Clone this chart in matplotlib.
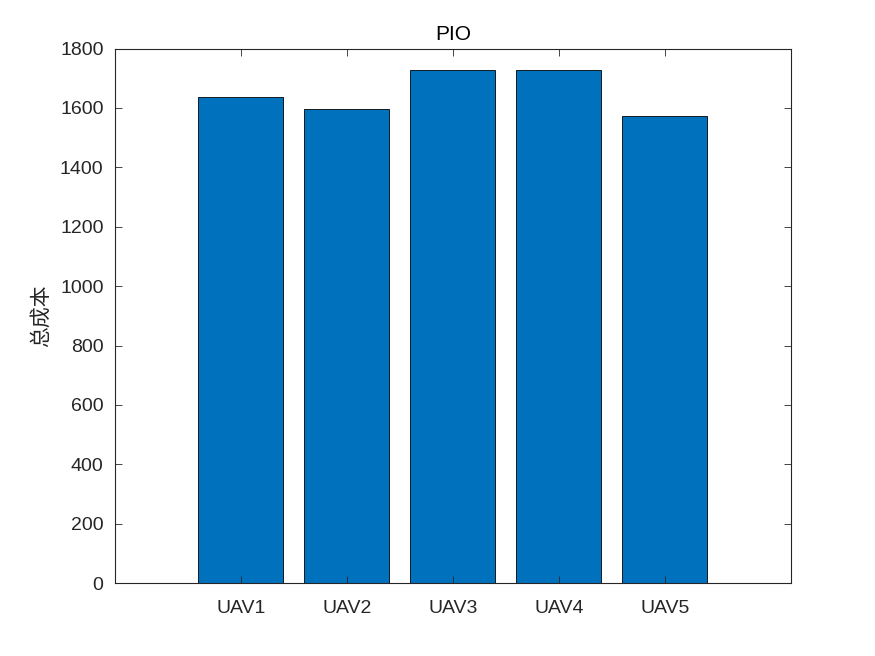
import numpy as np
import matplotlib
matplotlib.use("Agg")
import matplotlib.pyplot as plt

plt.rcParams['font.family'] = ['Liberation Sans', 'Noto Sans CJK SC', 'DejaVu Sans']

labels = ["UAV1", "UAV2", "UAV3", "UAV4", "UAV5"]
cost = [1638, 1595, 1728, 1728, 1573]
yticks = [0, 200, 400, 600, 800, 1000, 1200, 1400, 1600, 1800]

fig = plt.figure(figsize=(8.75, 6.56), dpi=100)
ax = fig.add_axes([0.131, 0.111, 0.773, 0.815])
x = np.arange(1, len(cost) + 1)
ax.bar(x, cost, width=0.8, color="#0072BD", edgecolor="black", linewidth=0.6)

ax.set_xlim(-0.19, 6.19)
ax.set_ylim(0, 1800)
ax.set_xticks(x)
ax.set_xticklabels(labels)
ax.set_yticks(yticks)
ax.tick_params(direction="in", top=True, right=True, length=5, width=0.6,
               colors="#262626", labelsize=14)
ax.tick_params(axis="x", pad=12)
ax.tick_params(axis="y", pad=8)
for s in ax.spines.values():
    s.set_linewidth(0.8)
    s.set_color("#262626")
ax.set_ylabel("总成本", fontsize=15, color="#262626", labelpad=6,
              family=['Noto Sans CJK SC', 'DejaVu Sans'])
ax.set_title("PIO", fontsize=15, color="black", pad=6)

fig.savefig("out.png", dpi=100)
